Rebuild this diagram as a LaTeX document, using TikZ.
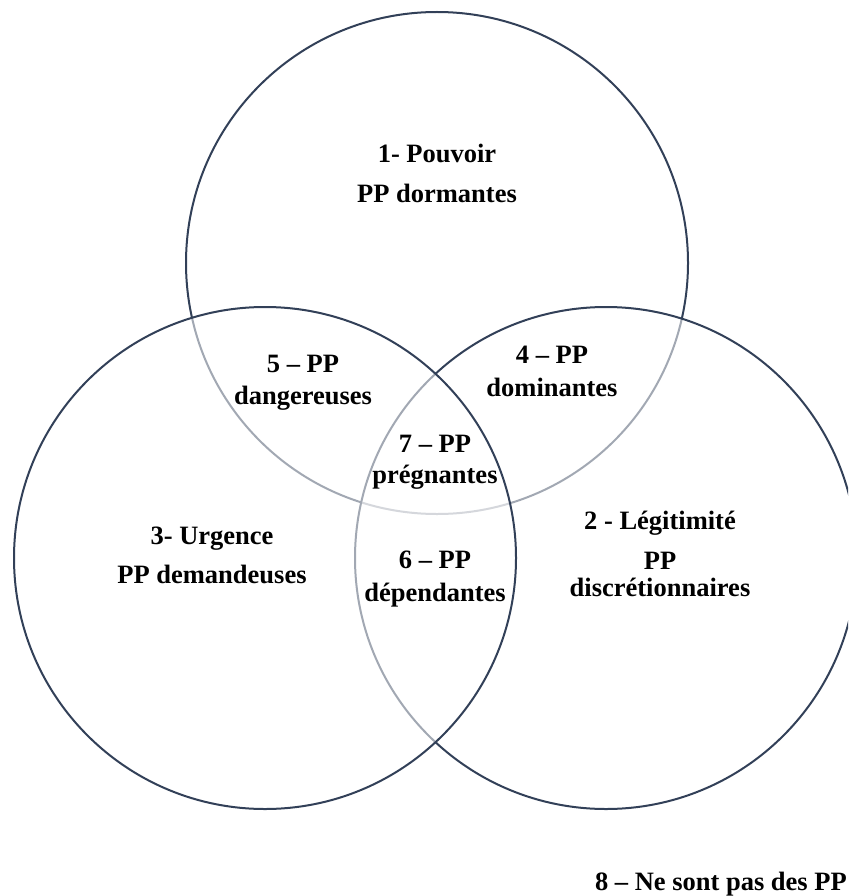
\documentclass[tikz,border=0pt]{standalone}
\usepackage{fontspec}
\setmainfont{Liberation Serif}
\definecolor{ringcol}{RGB}{50,64,88}
\begin{document}
\begin{tikzpicture}[x=1pt,y=-1pt,
  ring/.style={circle,draw=ringcol,line width=2pt,fill=white,fill opacity=0.55,minimum size=502pt,inner sep=0pt},
  lbl/.style={anchor=base,inner sep=0pt,text=black,font=\fontsize{26.5}{32}\selectfont\bfseries}]
\useasboundingbox (0,0) rectangle (848,896);
\clip (0,0) rectangle (848,896);
\node[ring] (pouvoir) at (437,263) {};
\node[ring] (legit) at (606,558) {};
\node[ring] (urgence) at (265,558) {};
% texts
\node[lbl] (t1a) at (437,163) {1- Pouvoir};
\node[lbl] (t1b) at (437,202) {PP dormantes};
\node[lbl] (t5a) at (303,372) {5 – PP};
\node[lbl] (t5b) at (303,404) {dangereuses};
\node[lbl] (t4a) at (552,363) {4 – PP};
\node[lbl] (t4b) at (552,396) {dominantes};
\node[lbl] (t7a) at (435,452) {7 – PP};
\node[lbl] (t7b) at (435,483) {prégnantes};
\node[lbl] (t3a) at (212,544) {3- Urgence};
\node[lbl] (t3b) at (212,583) {PP demandeuses};
\node[lbl] (t2a) at (660,529) {2 - Légitimité};
\node[lbl] (t2b) at (660,569) {PP};
\node[lbl] (t2c) at (660,596) {discrétionnaires};
\node[lbl] (t6a) at (435,568) {6 – PP};
\node[lbl] (t6b) at (435,601) {dépendantes};
\node[lbl,anchor=base east] (t8) at (847,890) {8 – Ne sont pas des PP};
\end{tikzpicture}
\end{document}
